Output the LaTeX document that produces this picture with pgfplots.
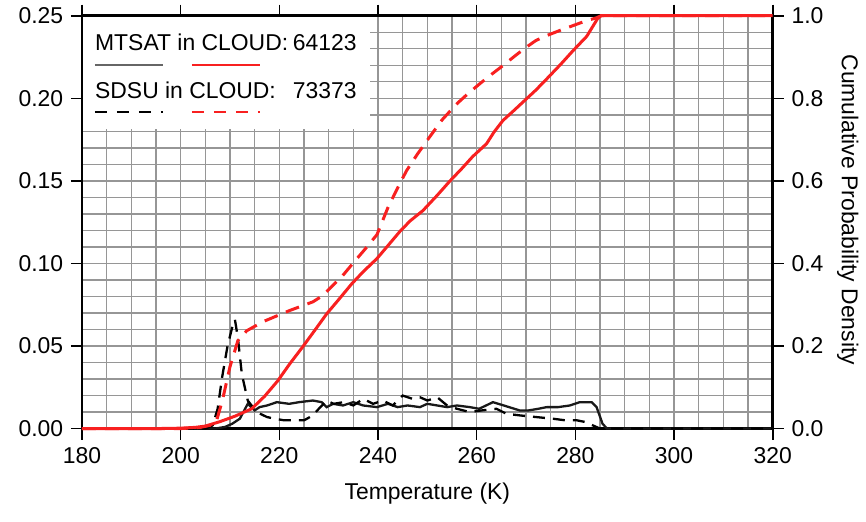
\documentclass[border=0pt]{standalone}
\usepackage{fontspec}
\setmainfont{Liberation Sans}
\usepackage{pgfplots}
\usepackage{pgfplotstable}
\pgfplotsset{compat=1.18}

\definecolor{cdfred}{RGB}{248,32,32}
\definecolor{gridgray}{RGB}{150,150,150}
\definecolor{pdfblack}{RGB}{25,25,25}

% Probability density of cloud-top temperature (left scale)
\pgfplotstableread{
T p
180 0
207 0
209 0.001
210.5 0.003
212 0.006
213.6 0.015
215 0.011
216 0.013
217.5 0.014
219.5 0.016
222 0.015
224 0.016
226.8 0.017
228.6 0.016
229.6 0.013
230.9 0.015
232.9 0.014
235 0.016
237 0.014
239.8 0.013
242 0.015
244 0.013
246 0.014
248.5 0.013
250 0.015
252 0.014
254 0.013
256 0.014
258.6 0.013
260.5 0.012
263.3 0.016
265.5 0.014
268.7 0.011
270.5 0.011
272.5 0.012
274.2 0.013
276.5 0.013
278.9 0.014
280.9 0.016
283.3 0.016
284.3 0.013
285.5 0.003
286.4 0
320 0
}\mtsatpdf

\pgfplotstableread{
T p
180 0
205 0
206.5 0.002
207.5 0.012
208.4 0.031
209.5 0.050
210.5 0.062
211.0 0.066
211.6 0.055
212.4 0.033
213.6 0.017
215.4 0.010
217.5 0.007
219 0.006
221 0.005
223 0.005
225 0.005
226.8 0.008
228 0.012
229.6 0.017
231 0.015
233 0.016
235 0.014
237 0.018
239 0.015
241 0.017
243 0.014
245 0.020
247 0.018
248.5 0.019
250 0.017
252 0.019
254 0.014
256 0.012
258.6 0.010
261 0.011
264 0.012
266 0.009
268.7 0.008
272 0.007
275.4 0.006
278 0.005
280.3 0.005
282 0.004
283.5 0.002
285 0
320 0
}\sdsupdf

% Cumulative distributions (right scale, 0..1)
\pgfplotstableread{
T c
180 0
195 0
200 0.001
203 0.003
205 0.006
208 0.017
211 0.030
214.4 0.048
217 0.078
219.7 0.116
222 0.155
224.8 0.199
227 0.235
229.6 0.278
232 0.312
234.7 0.351
237 0.380
239.8 0.412
242 0.443
244.4 0.477
246.5 0.503
249.1 0.528
252 0.565
254.6 0.600
257 0.630
259.2 0.659
262 0.690
263.5 0.718
265.3 0.746
267.5 0.770
269.3 0.790
272 0.820
274.2 0.847
277 0.882
279.5 0.915
282.3 0.950
284.5 0.993
285.2 1.0
320 1.0
}\mtsatcdf

\pgfplotstableread{
T c
180 0
200 0
204 0.003
206 0.008
207.3 0.020
208.5 0.070
210 0.150
211.6 0.213
213.4 0.237
216.7 0.259
222.1 0.286
226.8 0.307
228.8 0.322
230.6 0.344
232.8 0.370
234.9 0.400
237.4 0.435
239.8 0.470
242 0.535
244.4 0.593
245.8 0.625
248 0.665
250.5 0.707
253 0.748
256 0.787
258.3 0.812
260.6 0.835
263 0.858
265.3 0.879
268 0.905
270.2 0.925
272 0.940
274.2 0.952
277 0.965
279.5 0.976
282 0.987
284.3 0.995
285.2 1.0
320 1.0
}\sdsucdf

\begin{document}
\fontsize{23}{27}\selectfont
\begin{tikzpicture}
\begin{axis}[
  name=ax,
  scale only axis, width=691bp, height=413bp,
  xmin=180, xmax=320, ymin=0, ymax=0.25,
  clip=false,
  tick align=outside,
  major tick length=11bp,
  minor tick length=0bp,
  major tick style={black, line width=1.6bp},
  axis line style={black, line width=2.8bp},
  xtick={180,200,220,240,260,280,300,320},
  xticklabels={180,200,220,240,260,280,300,320},
  ytick={0,0.05,0.10,0.15,0.20,0.25},
  yticklabels={0.00,0.05,0.10,0.15,0.20,0.25},
  minor xtick={185,190,195,205,210,215,225,230,235,245,250,255,265,270,275,285,290,295,305,310,315},
  minor ytick={0.01,0.02,0.03,0.04,0.06,0.07,0.08,0.09,0.11,0.12,0.13,0.14,0.16,0.17,0.18,0.19,0.21,0.22,0.23,0.24},
  grid=both,
  major grid style={gridgray, line width=1.4bp},
  minor grid style={gridgray, line width=1.4bp},
  xtick pos=both, xticklabel pos=lower,
  ytick pos=both, yticklabel pos=left,
  ticklabel style={font=\fontsize{23}{27}\selectfont},
  xlabel={Temperature (K)},
  xlabel style={font=\fontsize{23}{27}\selectfont, yshift=-4bp},
]
% densities on the left scale
\addplot[pdfblack, line width=2.3bp] table[x=T, y=p] {\mtsatpdf};
\addplot[black, line width=2.3bp, dash pattern=on 12bp off 8bp] table[x=T, y=p] {\sdsupdf};
% cumulative curves: right scale 0..1 maps onto 0..0.25
\addplot[cdfred, line width=3bp] table[x=T, y expr=0.25*\thisrow{c}] {\mtsatcdf};
\addplot[cdfred, line width=3bp, dash pattern=on 14bp off 9bp] table[x=T, y expr=0.25*\thisrow{c}] {\sdsucdf};

% right-hand scale labels
\node[anchor=west] at ([xshift=11bp]rel axis cs:1,0.0) {0.0};
\node[anchor=west] at ([xshift=11bp]rel axis cs:1,0.2) {0.2};
\node[anchor=west] at ([xshift=11bp]rel axis cs:1,0.4) {0.4};
\node[anchor=west] at ([xshift=11bp]rel axis cs:1,0.6) {0.6};
\node[anchor=west] at ([xshift=11bp]rel axis cs:1,0.8) {0.8};
\node[anchor=west] at ([xshift=11bp]rel axis cs:1,1.0) {1.0};
\node[rotate=-90, anchor=center] at ([xshift=75bp]rel axis cs:1,0.53) {Cumulative Probability Density};
\end{axis}

% legend box in the upper left corner
\begin{scope}[shift={(ax.north west)}]
  \fill[white] (1.4bp,-1.4bp) rectangle (288bp,-113bp);
  \node[anchor=base west, inner sep=0] at (13bp,-35bp) {MTSAT in CLOUD:};
  \node[anchor=base east, inner sep=0] at (275bp,-35bp) {64123};
  \draw[gray!80!black, line width=2bp] (13bp,-49bp) -- (81bp,-49bp);
  \draw[cdfred, line width=2.4bp] (110bp,-49bp) -- (178bp,-49bp);
  \node[anchor=base west, inner sep=0] at (13bp,-83bp) {SDSU in CLOUD:};
  \node[anchor=base east, inner sep=0] at (275bp,-83bp) {73373};
  \draw[black, line width=2bp, dash pattern=on 12bp off 10bp] (13bp,-96bp) -- (81bp,-96bp);
  \draw[cdfred, line width=2.4bp, dash pattern=on 12bp off 10bp] (110bp,-96bp) -- (178bp,-96bp);
\end{scope}

% page margins around the plot box
\path ([shift={(-82bp,-93bp)}]ax.south west) rectangle ([shift={(93bp,13bp)}]ax.north east);
\end{tikzpicture}
\end{document}
